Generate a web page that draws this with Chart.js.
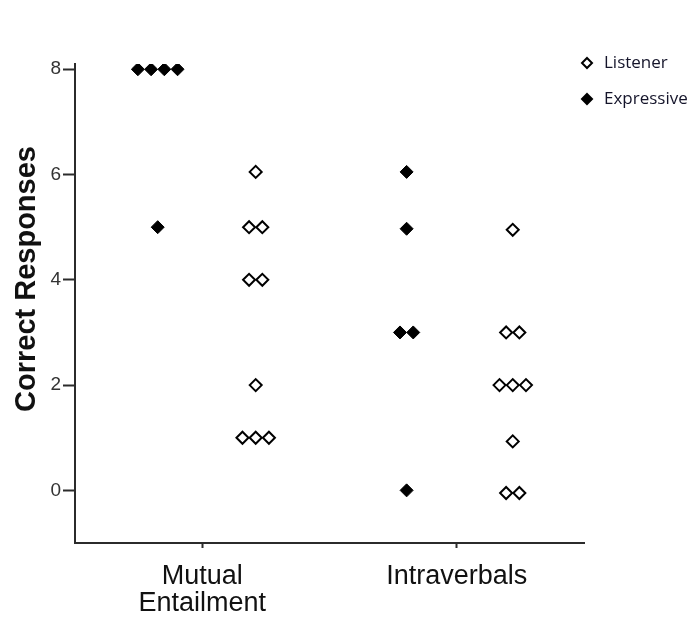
<!DOCTYPE html>
<html><head><meta charset="utf-8">
<script src="https://cdn.jsdelivr.net/npm/chart.js@4/dist/chart.umd.min.js"></script>
<style>html,body{margin:0;padding:0;background:#fff}#wrap{width:697px;height:619px;position:relative}</style>
</head><body><div id="wrap"><canvas id="c"></canvas></div>
<script>
// ---- data ----
const categories = [['Mutual', 'Entailment'], ['Intraverbals']];
const yTicks = [0, 2, 4, 6, 8];
const yTitle = 'Correct Responses';
const seriesNames = ['Listener', 'Expressive'];
const listenerME = [6.05, 5, 5, 4, 4, 2, 1, 1, 1];
const listenerIV = [4.95, 3, 3, 2, 2, 2, 0.93, -0.05, -0.05];
const expressiveME = [8, 8, 8, 8, 5];
const expressiveIV = [6.05, 4.97, 3, 3, 0];

// ---- layout helpers (dot-plot stacking of equal values) ----
const STEP = 0.052;
function swarm(values, catIndex, center) {
  const groups = {};
  const order = [];
  values.forEach(v => { const k = v.toFixed(2); if (!groups[k]) { groups[k] = []; order.push(k); } groups[k].push(v); });
  const pts = [];
  order.forEach(k => { const g = groups[k]; g.forEach((v, i) => pts.push({ x: catIndex + 1 + center + (i - (g.length - 1) / 2) * STEP, y: v })); });
  return pts;
}
const listenerData = swarm(listenerME, 0, 0.21).concat(swarm(listenerIV, 1, 0.22));
const expressiveData = swarm(expressiveME, 0, -0.175).concat(swarm(expressiveIV, 1, -0.197));

const AXIS = '#2b2b2b';
const FONT = '"Liberation Sans", Arial, Helvetica, sans-serif';

const extras = {
  id: 'extras',
  afterDraw(chart) {
    const ctx = chart.ctx;
    const ca = chart.chartArea;
    // y axis title
    ctx.save();
    ctx.translate(27, 279);
    ctx.rotate(-Math.PI / 2);
    ctx.font = 'bold 29px ' + FONT;
    ctx.fillStyle = '#111';
    ctx.textAlign = 'center';
    ctx.textBaseline = 'middle';
    ctx.fillText(yTitle, 0, 0);
    ctx.restore();
    // legend
    const items = [
      { name: seriesNames[0], ds: chart.data.datasets[0], y: 63 },
      { name: seriesNames[1], ds: chart.data.datasets[1], y: 99 }
    ];
    items.forEach(it => {
      const x = ca.right + 3, r = 5;
      ctx.save();
      ctx.beginPath();
      ctx.moveTo(x, it.y - r); ctx.lineTo(x + r, it.y); ctx.lineTo(x, it.y + r); ctx.lineTo(x - r, it.y); ctx.closePath();
      ctx.fillStyle = it.ds.backgroundColor;
      ctx.fill();
      ctx.lineWidth = 2;
      ctx.strokeStyle = it.ds.borderColor;
      ctx.stroke();
      ctx.font = '17px "Open Sans", "Noto Sans", sans-serif';
      ctx.fillStyle = '#14142a';
      ctx.textAlign = 'left';
      ctx.textBaseline = 'middle';
      ctx.fillText(it.name, x + 17, it.y);
      ctx.restore();
    });
  }
};

new Chart(document.getElementById('c'), {
  type: 'scatter',
  data: {
    datasets: [
      { label: seriesNames[0], data: listenerData, pointStyle: 'rectRot', pointRadius: 6, pointHoverRadius: 6,
        backgroundColor: '#ffffff', borderColor: '#000000', borderWidth: 2 },
      { label: seriesNames[1], data: expressiveData, pointStyle: 'rectRot', pointRadius: 6.5, pointHoverRadius: 6.5,
        backgroundColor: '#000000', borderColor: '#000000', borderWidth: 1 }
    ]
  },
  options: {
    responsive: true,
    maintainAspectRatio: false,
    animation: false,
    events: [],
    layout: { padding: { top: 64, right: 113, left: 0, bottom: 0 } },
    plugins: { legend: { display: false }, tooltip: { enabled: false } },
    scales: {
      x: {
        type: 'linear', min: 0.5, max: 2.5,
        afterBuildTicks: s => { s.ticks = categories.map((c, i) => ({ value: i + 1 })); },
        afterFit: s => { s.height = 76; },
        ticks: {
          callback: v => categories[Math.round(v) - 1],
          font: { family: FONT, size: 27, lineHeight: 1.0 }, color: '#111', padding: 15, maxRotation: 0, autoSkip: false
        },
        grid: { drawOnChartArea: false, drawTicks: true, tickLength: 5, tickColor: AXIS, tickWidth: 2 },
        border: { display: true, color: AXIS, width: 2 }
      },
      y: {
        type: 'linear', min: -1, max: 8.1,
        afterBuildTicks: s => { s.ticks = yTicks.map(v => ({ value: v })); },
        afterFit: s => { s.width = 75; },
        ticks: { font: { family: FONT, size: 19 }, color: '#333', padding: 2 },
        grid: { drawOnChartArea: false, drawTicks: true, tickLength: 12, tickColor: AXIS, tickWidth: 2 },
        border: { display: true, color: AXIS, width: 2 }
      }
    }
  },
  plugins: [extras]
});
</script>
</body></html>
